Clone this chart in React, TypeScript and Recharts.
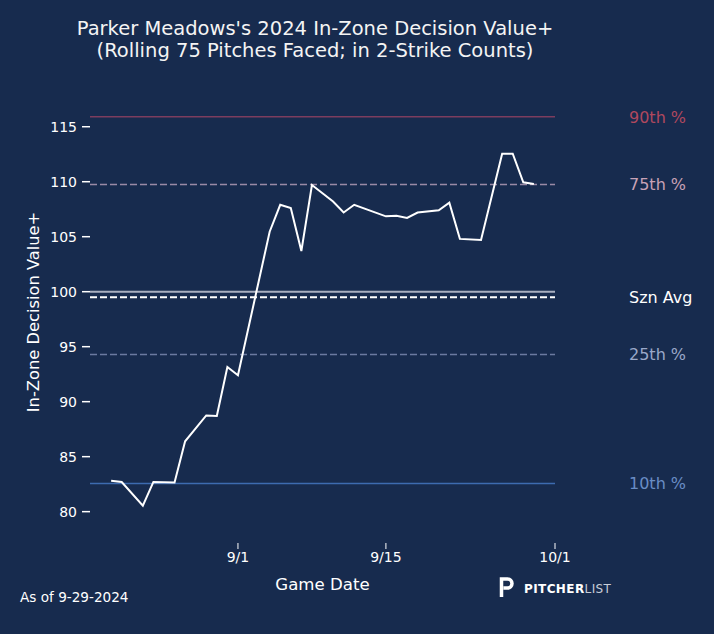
import { LineChart, Line, XAxis, YAxis, ReferenceLine } from "recharts"

const gameDates = [
  "2024-08-20", "2024-08-21", "2024-08-23", "2024-08-24", "2024-08-26", "2024-08-27",
  "2024-08-29", "2024-08-30", "2024-08-31", "2024-09-01", "2024-09-04", "2024-09-05",
  "2024-09-06", "2024-09-07", "2024-09-08", "2024-09-10", "2024-09-11", "2024-09-12",
  "2024-09-15", "2024-09-16", "2024-09-17", "2024-09-18", "2024-09-20", "2024-09-21",
  "2024-09-22", "2024-09-24", "2024-09-26", "2024-09-27", "2024-09-28", "2024-09-29"
]
const decisionValues = [
  82.8, 82.7, 80.55, 82.7, 82.65, 86.4,
  88.75, 88.7, 93.15, 92.4, 105.45, 107.9,
  107.6, 103.7, 109.7, 108.2, 107.2, 107.9,
  106.85, 106.9, 106.7, 107.2, 107.4, 108.1,
  104.8, 104.7, 112.55, 112.55, 109.95, 109.8
]

const yTicks = [80, 85, 90, 95, 100, 105, 110, 115]
const xTickDates = ["2024-09-01", "2024-09-15", "2024-10-01"]
const xTickLabels = ["9/1", "9/15", "10/1"]

const refNames = ["90th %", "75th %", "Szn Avg", "25th %", "10th %"]
const refValues = [115.9, 109.75, 99.5, 94.3, 82.55]
const leagueAvg = 100

const refStyles = [
  { stroke: "#7d3d5e", dash: undefined, width: 1.5, text: "#b0485e" },
  { stroke: "#9a8aa6", dash: "7 3", width: 1.5, text: "#c8a2b6" },
  { stroke: "#ffffff", dash: "7 3", width: 2, text: "#ffffff" },
  { stroke: "#6b7aa0", dash: "7 3", width: 1.5, text: "#9aa8c9" },
  { stroke: "#3d6bb0", dash: undefined, width: 1.5, text: "#6a8dc5" }
]

const BG = "#172b4e"
const FONT = "DejaVu Sans"

const dayOf = (s: string) => {
  const [y, m, d] = s.split("-").map(Number)
  return (Date.UTC(y, m - 1, d) - Date.UTC(2024, 8, 1)) / 86400000
}

const data = gameDates.map((d, i) => ({ day: dayOf(d), value: decisionValues[i] }))
const xTicks = xTickDates.map(dayOf)

export default function App() {
  return (
    <div style={{ position: "absolute", left: 0, top: 0, width: 714, height: 634, background: BG }}>
      <LineChart
        width={714}
        height={634}
        data={data}
        margin={{ top: 89, right: 159, bottom: 0, left: 0 }}
      >
        <XAxis
          type="number"
          dataKey="day"
          domain={[-14, 30]}
          ticks={xTicks}
          tickFormatter={(v: number) => xTickLabels[xTicks.indexOf(v)]}
          axisLine={false}
          tickSize={6}
          tickMargin={3}
          height={91}
          tickLine={{ stroke: "#ffffff", strokeWidth: 1 }}
          tick={{ fill: "#ffffff", fontSize: 14, fontFamily: FONT }}
        />
        <YAxis
          type="number"
          domain={[77.15, 118.43]}
          ticks={yTicks}
          allowDataOverflow
          axisLine={false}
          width={90}
          tickSize={8}
          tickMargin={5}
          tickLine={{ stroke: "#ffffff", strokeWidth: 1.5 }}
          tick={{ fill: "#ffffff", fontSize: 14, fontFamily: FONT }}
        />
        <ReferenceLine y={leagueAvg} stroke="#a8afc0" strokeWidth={2} />
        {refValues.map((v, i) => (
          <ReferenceLine
            key={refNames[i]}
            y={v}
            stroke={refStyles[i].stroke}
            strokeWidth={refStyles[i].width}
            strokeDasharray={refStyles[i].dash}
            label={{
              value: refNames[i],
              position: "right",
              offset: 74,
              fill: refStyles[i].text,
              fontSize: 16,
              fontFamily: FONT
            }}
          />
        ))}
        <Line
          type="linear"
          dataKey="value"
          stroke="#ffffff"
          strokeWidth={2}
          dot={false}
          isAnimationActive={false}
        />
      </LineChart>
      <svg
        width={714}
        height={634}
        style={{ position: "absolute", left: 0, top: 0, pointerEvents: "none" }}
        fontFamily={FONT}
      >
        <text x={315} y={28} fill="#f4f4f4" fontSize={19.5} textAnchor="middle" dominantBaseline="central">
          Parker Meadows's 2024 In-Zone Decision Value+
        </text>
        <text x={315} y={50} fill="#f4f4f4" fontSize={19.5} textAnchor="middle" dominantBaseline="central">
          (Rolling 75 Pitches Faced; in 2-Strike Counts)
        </text>
        <text
          x={33}
          y={312}
          fill="#ffffff"
          fontSize={16.3}
          textAnchor="middle"
          dominantBaseline="central"
          transform="rotate(-90 33 312)"
        >
          In-Zone Decision Value+
        </text>
        <text x={322.5} y={584} fill="#ffffff" fontSize={16.6} textAnchor="middle" dominantBaseline="central">
          Game Date
        </text>
        <text x={20} y={597} fill="#ffffff" fontSize={13.6} dominantBaseline="central">
          As of 9-29-2024
        </text>
        <path
          d="M501.5 597 V579 H507.5 A4.5 4.5 0 0 1 507.5 588 H503.5"
          fill="none"
          stroke="#ffffff"
          strokeWidth={3.5}
        />
        <text x={524} y={589} fill="#ffffff" fontSize={12} dominantBaseline="central" letterSpacing={0.4}>
          <tspan fontWeight="bold">PITCHER</tspan>
          <tspan fill="#c8cdd8">LIST</tspan>
        </text>
      </svg>
    </div>
  )
}
